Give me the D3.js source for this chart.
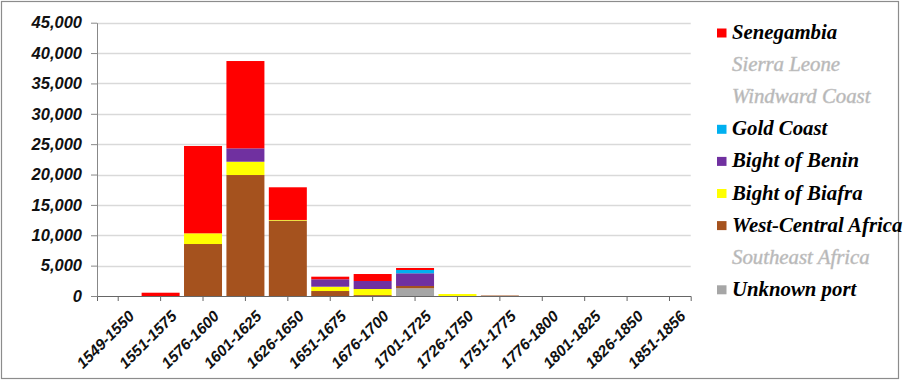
<!DOCTYPE html>
<html><head><meta charset="utf-8">
<script src="https://cdn.jsdelivr.net/npm/d3@7"></script>
<style>
html,body{margin:0;padding:0;background:#fff;}
svg{display:block;}
</style></head>
<body>
<svg id="chart" width="907" height="381"></svg>
<script>
const categories = ["1549-1550","1551-1575","1576-1600","1601-1625","1626-1650","1651-1675","1676-1700","1701-1725","1726-1750","1751-1775","1776-1800","1801-1825","1826-1850","1851-1856"];
const senegambia   = [0, 540, 14380, 14380, 5380, 430, 1150, 330, 0, 0, 0, 0, 0, 0];
const sierraLeone  = [0, 0, 0, 0, 0, 0, 0, 0, 0, 0, 0, 0, 0, 0];
const windwardCoast= [0, 0, 0, 0, 0, 0, 0, 0, 0, 0, 0, 0, 0, 0];
const goldCoast    = [0, 0, 0, 0, 0, 0, 0, 540, 0, 0, 0, 0, 0, 0];
const bightBenin   = [0, 0, 0, 2200, 0, 1220, 1320, 2090, 0, 0, 0, 0, 0, 0];
const bightBiafra  = [0, 0, 1760, 2190, 100, 710, 1000, 0, 330, 0, 0, 0, 0, 0];
const westCentral  = [0, 0, 8560, 19920, 12420, 820, 150, 380, 0, 80, 0, 0, 0, 0];
const southeast    = [0, 0, 0, 0, 0, 0, 0, 0, 0, 0, 0, 0, 0, 0];
const unknownPort  = [0, 0, 0, 0, 0, 0, 0, 1270, 0, 0, 0, 0, 0, 0];
const yTicks = [0, 5000, 10000, 15000, 20000, 25000, 30000, 35000, 40000, 45000];

// legend order (top to bottom)
const series = [
  {name:"Senegambia", values:senegambia, color:"#FF0000", active:true},
  {name:"Sierra Leone", values:sierraLeone, color:"#C0C0C0", active:false},
  {name:"Windward Coast", values:windwardCoast, color:"#C0C0C0", active:false},
  {name:"Gold Coast", values:goldCoast, color:"#00B0F0", active:true},
  {name:"Bight of Benin", values:bightBenin, color:"#7030A0", active:true},
  {name:"Bight of Biafra", values:bightBiafra, color:"#FFFF00", active:true},
  {name:"West-Central Africa", values:westCentral, color:"#A5521E", active:true},
  {name:"Southeast Africa", values:southeast, color:"#C0C0C0", active:false},
  {name:"Unknown port", values:unknownPort, color:"#A6A6A6", active:true}
];
const stackOrder = series.slice().reverse(); // bottom to top

const svg = d3.select("#chart");

// outer frame
svg.append("rect").attr("x",1.5).attr("y",1.5).attr("width",897).attr("height",377)
  .attr("fill","none").attr("stroke","#8c8c8c").attr("stroke-width",1.2);

const x = d3.scaleBand().domain(categories).range([97, 690.7]).paddingInner(0.104).paddingOuter(0.052);
const y = d3.scaleLinear().domain([0, 45000]).range([296, 22.7]);

// gridlines
svg.append("g").selectAll("line").data(yTicks.filter(d=>d>0)).join("line")
  .attr("x1",97).attr("x2",690.7)
  .attr("y1",d=>Math.round(y(d))+0.5).attr("y2",d=>Math.round(y(d))+0.5)
  .attr("stroke","#d9d9d9").attr("stroke-width",1.6);

// stacked bars
const table = categories.map((c,i)=>{
  const o = {cat:c};
  stackOrder.forEach(s=>{o[s.name]=s.values[i];});
  return o;
});
const stack = d3.stack().keys(stackOrder.map(s=>s.name))(table);
const colorOf = Object.fromEntries(series.map(s=>[s.name,s.color]));
svg.append("g").selectAll("g").data(stack).join("g")
  .attr("fill",d=>colorOf[d.key])
  .selectAll("rect").data(d=>d).join("rect")
  .attr("x",d=>x(d.data.cat))
  .attr("width",x.bandwidth())
  .attr("y",d=>y(d[1]))
  .attr("height",d=>Math.max(0,y(d[0])-y(d[1])));

// y axis
const yAxis = svg.append("g").attr("transform","translate(97,0)")
  .call(d3.axisLeft(y).tickValues(yTicks).tickFormat(d3.format(",")).tickSize(6).tickSizeOuter(0).tickPadding(9));
yAxis.select(".domain").attr("stroke","#888");
yAxis.selectAll(".tick line").attr("stroke","#888");
yAxis.selectAll("text").attr("font-family","'Liberation Sans', Arial, sans-serif")
  .attr("font-weight","bold").attr("font-style","italic").attr("font-size","16.5px").attr("fill","#111");

// x axis
const xAxis = svg.append("g").attr("transform","translate(0,296)")
  .call(d3.axisBottom(x).tickSize(5).tickSizeOuter(5).tickPadding(4));
xAxis.select(".domain").attr("stroke","#666");
xAxis.selectAll(".tick line").attr("stroke","#666");
xAxis.selectAll("text")
  .attr("font-family","'Liberation Sans', Arial, sans-serif")
  .attr("font-weight","bold").attr("font-style","italic").attr("font-size","15.5px").attr("fill","#111")
  .attr("text-anchor","end")
  .attr("dy","0.35em")
  .attr("transform","translate(7,11) rotate(-45)");

// legend
const lg = svg.append("g");
series.forEach((s,i)=>{
  const yy = 28.5 + i*32.1;
  if(s.active){
    lg.append("rect").attr("x",717).attr("y",yy).attr("width",9.5).attr("height",9)
      .attr("fill",s.color);
  }
  lg.append("text").attr("x",732).attr("y",yy+10.5)
    .attr("font-family","'Liberation Serif','Times New Roman',serif")
    .attr("font-weight",s.active?"bold":"normal")
    .attr("font-style","italic").attr("font-size","20.8px")
    .attr("fill",s.active?"#000":"#b4b4b4")
    .attr("stroke",s.active?"none":"#c4c4c4").attr("stroke-width",0.5)
    .text(s.name);
});
</script>
</body></html>
